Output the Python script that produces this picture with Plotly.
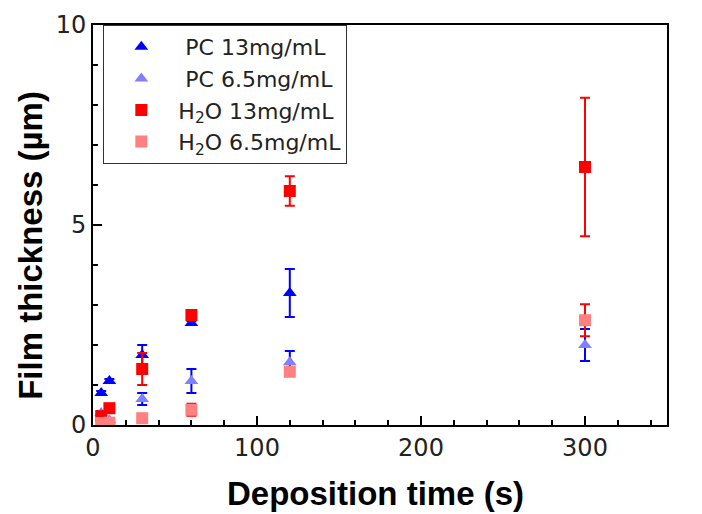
import plotly.graph_objects as go

time = [5, 10, 30, 60, 120, 300]

pc13 = [0.8, 1.1, 1.75, 2.55, 3.3, None]
pc13_err = [0.05, 0.05, 0.25, 0.05, 0.6, None]

pc65 = [0.3, 0.12, 0.65, 1.1, 1.57, 2.0]
pc65_err = [0.05, 0.05, 0.15, 0.3, 0.28, 0.4]

h2o13 = [0.22, 0.42, 1.4, 2.75, 5.85, 6.45]
h2o13_err = [0.05, 0.05, 0.4, 0.1, 0.37, 1.73]

h2o65 = [0.05, 0.06, 0.17, 0.38, 1.33, 2.62]
h2o65_err = [0.03, 0.03, 0.08, 0.15, 0.06, 0.4]

names = [" PC 13mg/mL", " PC 6.5mg/mL", "H<sub>2</sub>O 13mg/mL", "H<sub>2</sub>O 6.5mg/mL"]
x_title = "Deposition time (s)"
y_title = "Film thickness (µm)"

series = [
    (pc13, pc13_err, names[0], "triangle-up", "#0000ff", "#0000ff"),
    (pc65, pc65_err, names[1], "triangle-up", "#8080ff", "#0000ff"),
    (h2o13, h2o13_err, names[2], "square", "#ff0000", "#ff0000"),
    (h2o65, h2o65_err, names[3], "square", "#ff8080", "#ff0000"),
]

fig = go.Figure()
for y, e, name, sym, mcol, ecol in series:
    fig.add_trace(go.Scatter(
        x=time, y=y, mode="markers", name=name,
        marker=dict(symbol=sym, size=12, color=mcol, line=dict(width=0)),
        error_y=dict(type="data", array=e, visible=True, color=ecol, thickness=2, width=5),
    ))

fig.update_layout(
    width=702, height=514,
    margin=dict(l=93, r=35, t=25, b=89),
    paper_bgcolor="white", plot_bgcolor="white",
    font=dict(family="Liberation Sans, Arial, sans-serif", color="black"),
    legend=dict(
        x=0.018, y=1, xanchor="left", yanchor="top",
        bordercolor="#333333", borderwidth=1,
        font=dict(size=22, family="DejaVu Sans, sans-serif", color="#222222"),
        itemwidth=64,
        bgcolor="white",
    ),
    showlegend=True,
    annotations=[
        dict(text="<b>" + x_title + "</b>", xref="paper", yref="paper",
             x=0.493, y=-0.17, xanchor="center", yanchor="middle", showarrow=False,
             font=dict(size=33, family="Liberation Sans, Arial, sans-serif", color="black")),
        dict(text="<b>" + y_title + "</b>", xref="paper", yref="paper", textangle=-90,
             x=-0.11, y=0.45, xanchor="center", yanchor="middle", showarrow=False,
             font=dict(size=33, family="Liberation Sans, Arial, sans-serif", color="black")),
    ],
)

fig.update_xaxes(
    range=[0, 350], showline=True, linecolor="black", linewidth=2, mirror=True,
    ticks="inside", ticklen=9, tickwidth=2, tickcolor="black",
    tickvals=[0, 100, 200, 300], tickfont=dict(size=24, family="DejaVu Sans, sans-serif", color="#222222"),
    minor=dict(ticks="inside", ticklen=5, tickwidth=2, tickcolor="black", dtick=20),
    showgrid=False, zeroline=False,
)
fig.update_yaxes(
    range=[0, 10], showline=True, linecolor="black", linewidth=2, mirror=True,
    ticks="inside", ticklen=9, tickwidth=2, tickcolor="black",
    tickvals=[0, 5, 10], tickfont=dict(size=24, family="DejaVu Sans, sans-serif", color="#222222"),
    minor=dict(ticks="inside", ticklen=5, tickwidth=2, tickcolor="black", dtick=1),
    showgrid=False, zeroline=False,
)

fig.write_html("out.html")
